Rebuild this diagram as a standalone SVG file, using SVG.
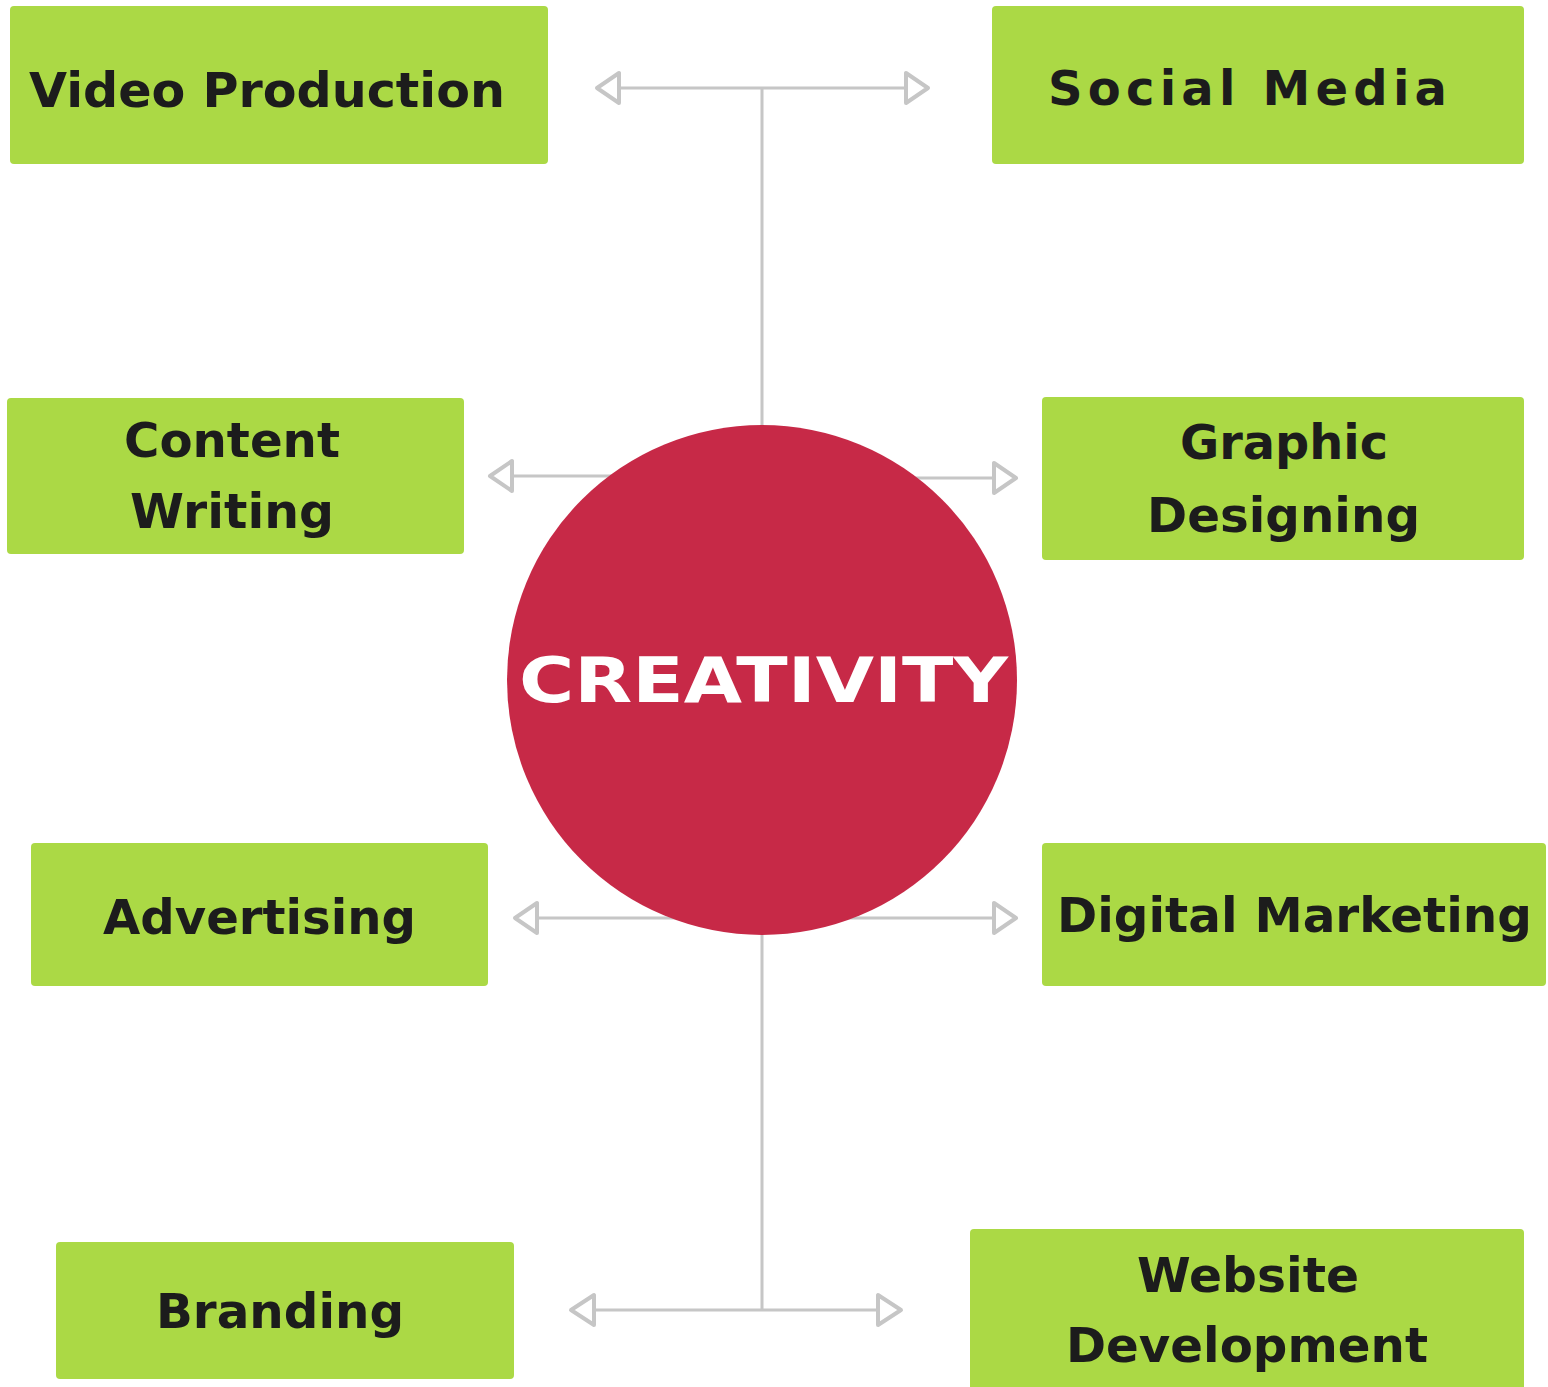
<svg xmlns="http://www.w3.org/2000/svg" width="1548" height="1387" viewBox="0 0 1548 1387">
<style>
.box{fill:#abd945;}
.lbl{font-family:"DejaVu Sans","Liberation Sans",sans-serif;font-weight:bold;font-size:48px;fill:#1c1c1c;}
.conn{stroke:#c6c6c6;stroke-width:3;fill:none;}
.head{stroke:#c6c6c6;stroke-width:4;fill:#ffffff;stroke-linejoin:round;}
.center{font-family:"DejaVu Sans","Liberation Sans",sans-serif;font-weight:900;font-size:62px;fill:#ffffff;}
</style>
<rect width="1548" height="1387" fill="#ffffff"/>
<g id="connectors">
<line class="conn" x1="762" y1="88" x2="762" y2="430"/>
<line class="conn" x1="610" y1="88" x2="916" y2="88"/>
<path class="head" d="M597 88 L619 73 L619 103 Z"/>
<path class="head" d="M928 88 L906 73 L906 103 Z"/>
<line class="conn" x1="500" y1="476" x2="640" y2="476"/>
<path class="head" d="M490 476 L512 461 L512 491 Z"/>
<line class="conn" x1="880" y1="478" x2="1004" y2="478"/>
<path class="head" d="M1016 478 L994 463 L994 493 Z"/>
<line class="conn" x1="527" y1="918" x2="1004" y2="918"/>
<path class="head" d="M515 918 L537 903 L537 933 Z"/>
<path class="head" d="M1016 918 L994 903 L994 933 Z"/>
<line class="conn" x1="762" y1="930" x2="762" y2="1310"/>
<line class="conn" x1="583" y1="1310" x2="889" y2="1310"/>
<path class="head" d="M571 1310 L594 1295 L594 1325 Z"/>
<path class="head" d="M901 1310 L878 1295 L878 1325 Z"/>
</g>
<g id="center-node">
<circle cx="762" cy="680" r="255" fill="#c72947"/>
<text class="center" x="519" y="702" textLength="489" lengthAdjust="spacingAndGlyphs">CREATIVITY</text>
</g>
<g id="video-production">
<rect class="box" x="10" y="6" width="538" height="158" rx="4"/>
<text class="lbl" x="29" y="107" textLength="476" lengthAdjust="spacingAndGlyphs">Video Production</text>
</g>
<g id="social-media">
<rect class="box" x="992" y="6" width="532" height="158" rx="4"/>
<text class="lbl" x="1048" y="105" textLength="399" lengthAdjust="spacing">Social Media</text>
</g>
<g id="content-writing">
<rect class="box" x="7" y="398" width="457" height="156" rx="4"/>
<text class="lbl" x="124" y="457" textLength="216" lengthAdjust="spacingAndGlyphs">Content</text>
<text class="lbl" x="130" y="528" textLength="204" lengthAdjust="spacingAndGlyphs">Writing</text>
</g>
<g id="graphic-designing">
<rect class="box" x="1042" y="397" width="482" height="163" rx="4"/>
<text class="lbl" x="1180" y="459" textLength="208" lengthAdjust="spacingAndGlyphs">Graphic</text>
<text class="lbl" x="1147" y="532" textLength="273" lengthAdjust="spacingAndGlyphs">Designing</text>
</g>
<g id="advertising">
<rect class="box" x="31" y="843" width="457" height="143" rx="4"/>
<text class="lbl" x="103" y="934" textLength="313" lengthAdjust="spacingAndGlyphs">Advertising</text>
</g>
<g id="digital-marketing">
<rect class="box" x="1042" y="843" width="504" height="143" rx="4"/>
<text class="lbl" x="1057" y="932" textLength="475" lengthAdjust="spacingAndGlyphs">Digital Marketing</text>
</g>
<g id="branding">
<rect class="box" x="56" y="1242" width="458" height="137" rx="4"/>
<text class="lbl" x="156" y="1328" textLength="248" lengthAdjust="spacingAndGlyphs">Branding</text>
</g>
<g id="website-development">
<rect class="box" x="970" y="1229" width="554" height="162" rx="4"/>
<text class="lbl" x="1137" y="1292" textLength="222" lengthAdjust="spacingAndGlyphs">Website</text>
<text class="lbl" x="1066" y="1362" textLength="362" lengthAdjust="spacingAndGlyphs">Development</text>
</g>
</svg>
